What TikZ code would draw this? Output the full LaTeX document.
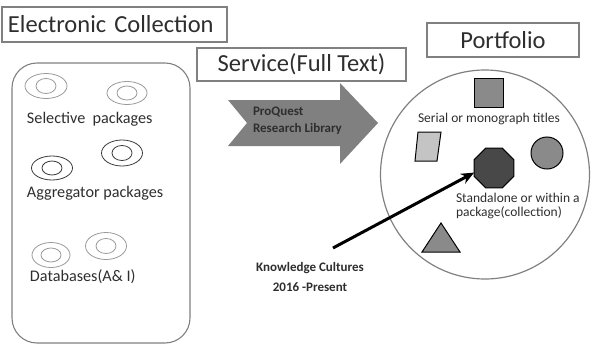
\documentclass[tikz,border=0pt]{standalone}
\usepackage{fontspec}
\setmainfont{Carlito}
\usetikzlibrary{shapes.geometric,arrows.meta}

\definecolor{boxgray}{HTML}{808080}
\definecolor{textgray}{HTML}{2E2E2E}
\definecolor{ringlight}{HTML}{9A9A9A}
\definecolor{ringdark}{HTML}{3A3A3A}
\definecolor{shapemid}{HTML}{8A8A8A}
\definecolor{shapelight}{HTML}{C4C4C4}
\definecolor{shapedark}{HTML}{484848}

\begin{document}
\begin{tikzpicture}[x=1pt, y=-1pt,
  >=Stealth, %
  inner sep=0pt, outer sep=0pt,%
  title box/.style={draw=boxgray,line width=1.1pt,text=textgray,
    font=\fontsize{24.5}{28}\selectfont},
  ring/.style={draw=#1,line width=0.8pt},
  label text/.style={text=textgray,anchor=west,font=\fontsize{16.2}{19}\selectfont},
  small text/.style={text=textgray,font=\fontsize{13.5}{14.5}\selectfont},
  bold text/.style={text=textgray,font=\fontsize{13}{#1}\selectfont\bfseries},
  item/.style={draw=black,line width=1pt,fill=#1}]

\useasboundingbox (0,0) rectangle (592,348);

% titles
\node[title box,text width=213pt,inner xsep=6pt,minimum height=35pt,align=left] (ecoll) at (114.5,24.5) {Electronic Collection};
\node[title box,minimum width=209pt,minimum height=33pt] (service) at (301.5,64.5) {Service(Full Text)};
\node[title box,minimum width=152pt,minimum height=34pt] (portfolio) at (503,40) {Portfolio};

% collection
\draw[draw=boxgray,line width=1.1pt,rounded corners=25pt] (12,63) rectangle (190,343);

\draw[ring=ringlight] (46,86) ellipse (21pt and 12.5pt);
\draw[ring=ringlight] (46,86) ellipse (10pt and 7.5pt);
\draw[ring=ringlight] (127,93) ellipse (20pt and 11.5pt);
\draw[ring=ringlight] (127,93) ellipse (10pt and 7pt);

\draw[ring=ringdark] (52,168) ellipse (20.5pt and 12pt);
\draw[ring=ringdark] (52,168) ellipse (10pt and 7pt);
\draw[ring=ringdark] (122,153) ellipse (20.5pt and 13pt);
\draw[ring=ringdark] (122,153) ellipse (10pt and 7.5pt);

\draw[ring=ringlight] (51,255) ellipse (19pt and 12.5pt);
\draw[ring=ringlight] (51,255) ellipse (10pt and 7pt);
\draw[ring=ringlight] (106,246) ellipse (20.5pt and 13.5pt);
\draw[ring=ringlight] (106,246) ellipse (10pt and 7.5pt);

\node[label text] (selective) at (27,119) {Selective\ \ packages};
\node[label text] (aggregator) at (27,193) {Aggregator packages};
\node[label text] (databases) at (30,277) {Databases(A\& I)};

% service arrow
\fill[boxgray] (228,100) -- (340,100) -- (340,83) -- (378,123) -- (340,164)
  -- (340,146) -- (228,146) -- (247,123) -- cycle;
\node[bold text=17,align=left,anchor=west] (proquest) at (253,121) {ProQuest\\Research Library};

% portfolio
\draw[draw=boxgray,line width=1.2pt] (485,174.5) circle (104.5pt);

\node[item=shapemid,rectangle,minimum size=29pt] (serial) at (488.5,93) {};
\node[small text] (serialtext) at (489,119) {Serial or monograph titles};
\draw[item=shapelight] (418,132) -- (441,132) -- (437,161) -- (415,161) -- cycle;
\node[item=shapemid,circle,minimum size=32pt] (disc) at (547,153) {};
\node[item=shapedark,regular polygon,regular polygon sides=8,minimum size=43pt] (standalone) at (494,168) {};
\node[small text,align=left,anchor=west] (standtext) at (456,206) {Standalone or within a\\package(collection)};
\draw[item=shapemid] (422,252) -- (460,252) -- (441,223) -- cycle;

% knowledge cultures
\node[bold text=20,align=center] (kc) at (310,277) {Knowledge Cultures\\2016 -Present};
\coordinate (kc tail) at (333,248);
\draw[-{Stealth[length=13pt,width=11pt]},line width=3pt] (kc tail) -- (standalone.193);

\end{tikzpicture}
\end{document}
